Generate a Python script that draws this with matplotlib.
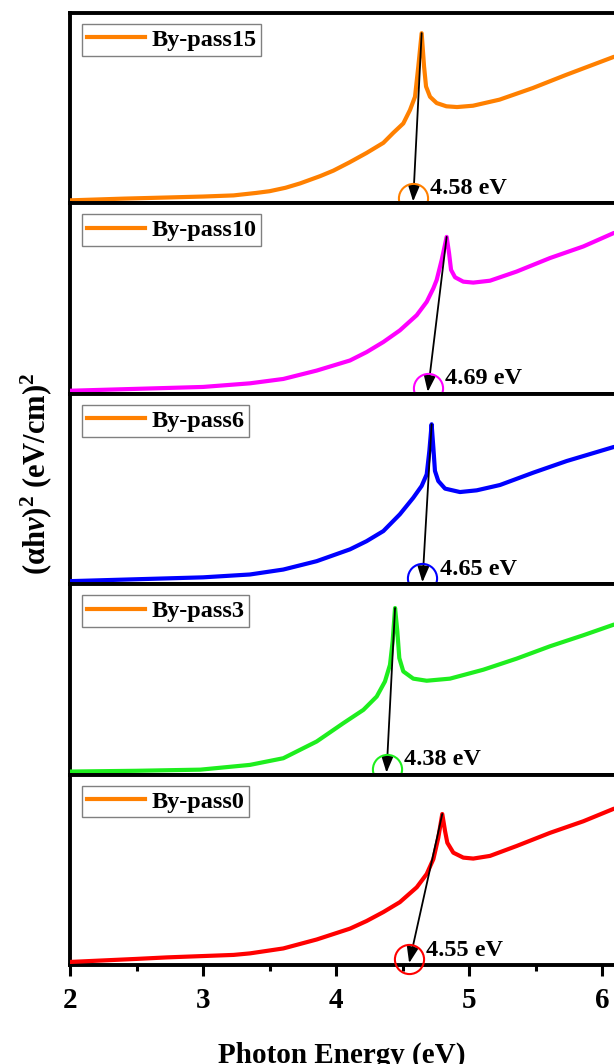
import matplotlib
matplotlib.use("Agg")
import matplotlib.pyplot as plt
from matplotlib.lines import Line2D
from matplotlib.ticker import MultipleLocator

plt.rcParams['font.family'] = ['Liberation Serif', 'DejaVu Serif']
plt.rcParams['font.weight'] = 'bold'
plt.rcParams['mathtext.fontset'] = 'custom'
plt.rcParams['mathtext.rm'] = 'Liberation Serif:bold'
plt.rcParams['mathtext.it'] = 'Liberation Serif:bold:italic'
plt.rcParams['mathtext.bf'] = 'Liberation Serif:bold'

# ---- data (y in relative units of each panel) ----
labels = ["By-pass15", "By-pass10", "By-pass6", "By-pass3", "By-pass0"]
colors = ["#FF8000", "#FF00FF", "#0000FF", "#1EEE1E", "#FF0000"]
band_gaps = [4.58, 4.69, 4.65, 4.38, 4.55]

x_bp15 = [2.0, 2.4, 2.73, 3.0, 3.23, 3.4, 3.5, 3.62, 3.73, 3.88, 3.98, 4.1, 4.23, 4.356,
          4.43, 4.506, 4.556, 4.594, 4.619, 4.644, 4.662, 4.677, 4.707, 4.757, 4.83,
          4.91, 5.03, 5.23, 5.48, 5.73, 6.09]
y_bp15 = [0.016, 0.025, 0.031, 0.036, 0.042, 0.055, 0.064, 0.082, 0.105, 0.143, 0.172,
          0.215, 0.265, 0.318, 0.37, 0.42, 0.49, 0.56, 0.72, 0.894, 0.72, 0.614, 0.56,
          0.527, 0.51, 0.506, 0.513, 0.545, 0.606, 0.675, 0.77]

x_bp10 = [2.0, 2.5, 3.0, 3.353, 3.604, 3.855, 4.105, 4.23, 4.356, 4.48, 4.607, 4.682,
          4.732, 4.757, 4.795, 4.832, 4.85, 4.865, 4.895, 4.957, 5.032, 5.158, 5.358,
          5.609, 5.86, 6.09]
y_bp10 = [0.016, 0.026, 0.036, 0.055, 0.078, 0.122, 0.175, 0.219, 0.272, 0.333, 0.413,
          0.483, 0.554, 0.598, 0.704, 0.824, 0.739, 0.651, 0.612, 0.589, 0.584, 0.594,
          0.642, 0.713, 0.774, 0.845]

x_bp6 = [2.0, 2.5, 3.0, 3.353, 3.604, 3.855, 4.105, 4.23, 4.356, 4.48, 4.581, 4.644,
         4.682, 4.702, 4.719, 4.732, 4.744, 4.769, 4.82, 4.932, 5.058, 5.233, 5.484,
         5.735, 6.09]
y_bp6 = [0.016, 0.026, 0.036, 0.051, 0.077, 0.121, 0.183, 0.226, 0.279, 0.367, 0.454,
         0.516, 0.577, 0.70, 0.84, 0.717, 0.595, 0.542, 0.502, 0.484, 0.493, 0.521,
         0.586, 0.647, 0.721]

x_bp3 = [2.0, 2.5, 2.98, 3.353, 3.604, 3.855, 4.055, 4.206, 4.306, 4.368, 4.406, 4.426,
         4.444, 4.461, 4.476, 4.506, 4.581, 4.682, 4.857, 5.108, 5.358, 5.609, 5.86, 6.09]
y_bp3 = [0.016, 0.020, 0.026, 0.051, 0.086, 0.174, 0.27, 0.34, 0.41, 0.489, 0.577, 0.70,
         0.875, 0.753, 0.612, 0.542, 0.504, 0.493, 0.504, 0.551, 0.609, 0.674, 0.732, 0.788]

x_bp0 = [2.0, 2.5, 2.73, 3.0, 3.23, 3.353, 3.604, 3.855, 4.105, 4.23, 4.356, 4.48, 4.607,
         4.682, 4.732, 4.769, 4.799, 4.82, 4.837, 4.882, 4.957, 5.032, 5.158, 5.358,
         5.609, 5.86, 6.09]
y_bp0 = [0.016, 0.032, 0.040, 0.047, 0.053, 0.061, 0.087, 0.134, 0.191, 0.231, 0.278,
         0.33, 0.408, 0.478, 0.556, 0.668, 0.793, 0.703, 0.642, 0.59, 0.564, 0.559, 0.573,
         0.625, 0.694, 0.755, 0.821]

xs = [x_bp15, x_bp10, x_bp6, x_bp3, x_bp0]
ys = [y_bp15, y_bp10, y_bp6, y_bp3, y_bp0]

x_ticks = [2, 3, 4, 5, 6]

# ---- figure ----
W, H = 614, 1064
fig = plt.figure(figsize=(W / 100, H / 100), dpi=100)

left_px, right_px = 70, 614
top_px, bottom_px = 13, 965
n = 5
ph = (bottom_px - top_px) / n
xmax = 2 + (right_px - left_px) / 133.0

for i in range(n):
    t = top_px + i * ph
    ax = fig.add_axes([left_px / W, 1 - (t + ph) / H, (right_px - left_px) / W, ph / H])
    x, y, c = xs[i], ys[i], colors[i]
    ax.plot(x, y, color=c, lw=3.0, solid_capstyle='round', solid_joinstyle='round', zorder=3)
    ax.set_xlim(2, xmax)
    ax.set_ylim(0, 1)
    for s in ['top', 'bottom', 'left']:
        ax.spines[s].set_linewidth(2.8)
        ax.spines[s].set_color('black')
    ax.spines['right'].set_visible(False)
    ax.set_yticks([])

    # arrow from the absorption peak down to the band gap
    cand = [k for k in range(len(x)) if x[k] < 5.3]
    ipk = max(cand, key=lambda k: y[k])
    ax.annotate('', xy=(band_gaps[i], 0.01), xytext=(x[ipk], y[ipk]),
                arrowprops=dict(arrowstyle='-|>,head_length=0.6,head_width=0.22',
                                color='black', lw=1.3, mutation_scale=16,
                                shrinkA=0, shrinkB=0), zorder=4)
    ax.plot([band_gaps[i]], [0.03], 'o', mfc='none', mec=c, ms=21, mew=1.5,
            clip_on=False, zorder=5)
    ax.text(band_gaps[i] + 0.13, 0.078, f"{band_gaps[i]:.2f} eV", fontsize=17.5,
            fontweight='bold', ha='left', va='center', zorder=6)

    h = Line2D([], [], color='#FF8000', lw=3.0)
    leg = ax.legend([h], [labels[i]], loc='upper left', bbox_to_anchor=(0.022, 0.942),
                    borderaxespad=0, borderpad=0.2, handlelength=2.4, handletextpad=0.25,
                    fancybox=False, framealpha=1,
                    prop={'family': 'Liberation Serif', 'weight': 'bold', 'size': 17.5})
    leg.get_frame().set_edgecolor('#808080')
    leg.get_frame().set_linewidth(1.0)

    if i < n - 1:
        ax.set_xticks([])
    else:
        ax.set_xticks(x_ticks)
        ax.xaxis.set_minor_locator(MultipleLocator(0.5))
        ax.tick_params(axis='x', which='major', direction='out', length=8, width=2.2,
                       labelsize=21, pad=8)
        ax.tick_params(axis='x', which='minor', direction='out', length=4, width=2.2)
        for lab in ax.get_xticklabels():
            lab.set_fontweight('bold')
        ax.set_xlabel('Photon Energy (eV)', fontsize=21, fontweight='bold', labelpad=20)

fig.text(36 / W, 1 - 474 / H, r'(αh$\nu$)$^2$ (eV/cm)$^2$', rotation=90,
         ha='center', va='center', fontsize=22, fontweight='bold')

fig.savefig('out.png', dpi=100)
